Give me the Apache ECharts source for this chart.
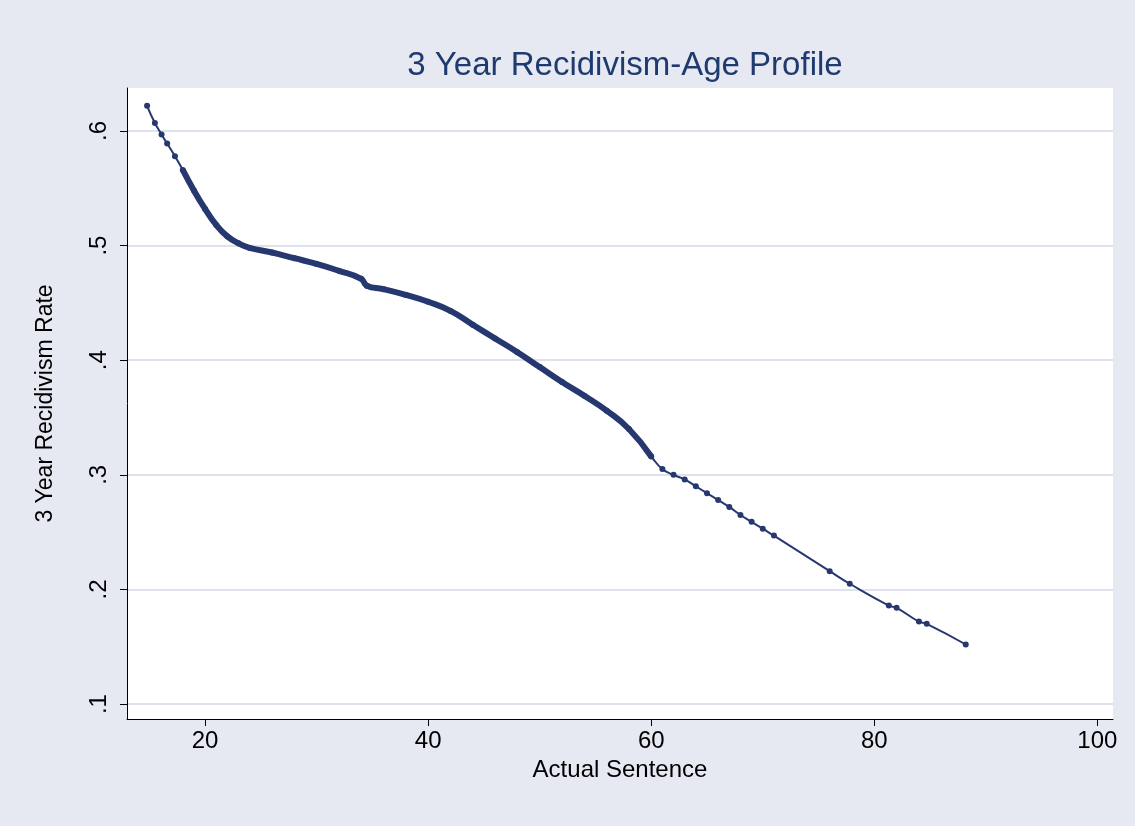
<!DOCTYPE html>
<html><head><meta charset="utf-8">
<script src="https://cdn.jsdelivr.net/npm/echarts@6/dist/echarts.min.js"></script>
<style>html,body{margin:0;padding:0;background:#e6e9f2}#main{width:1135px;height:826px}</style>
</head><body><div id="main"></div>
<script>
var sentence = [14.8,15.5,16.1,16.6,17.3,18,19,20,21,22,23,24,26,28,30,32,34,34.5,36,38,40,42,44,46,48,50,52,54,56,58,60,61,62,63,64,65,66,67,68,69,70,71,76,77.8,81.3,82,84,84.7,88.2];
var rate = [0.622,0.607,0.597,0.589,0.578,0.566,0.548,0.532,0.518,0.508,0.502,0.498,0.494,0.489,0.484,0.478,0.471,0.465,0.462,0.457,0.451,0.443,0.431,0.419,0.407,0.394,0.381,0.369,0.356,0.340,0.316,0.305,0.300,0.296,0.290,0.284,0.278,0.272,0.265,0.259,0.253,0.247,0.216,0.205,0.186,0.184,0.172,0.170,0.152];
var yTicks = {0.1:'.1',0.2:'.2',0.3:'.3',0.4:'.4',0.5:'.5',0.6:'.6'};

var pts = sentence.map(function (x, i) { return [x, rate[i]]; });
var dense = pts.filter(function (p) { return p[0] >= 17.8 && p[0] <= 60.5; });

var myChart = echarts.init(document.getElementById('main'));
myChart.setOption({
  backgroundColor: '#e6e9f2',
  animation: false,
  title: {
    text: '3 Year Recidivism-Age Profile', left: 620, top: 44, textAlign: 'center',
    textStyle: { color: '#1f3a6e', fontSize: 33, fontWeight: 'normal', fontFamily: 'Liberation Sans' }
  },
  grid: { left: 127, right: 22, top: 88, bottom: 107, backgroundColor: '#fff', show: true, borderWidth: 0 },
  xAxis: {
    type: 'value', min: 13, max: 101.4,
    name: 'Actual Sentence', nameLocation: 'middle', nameGap: 30,
    nameTextStyle: { color: '#000', fontSize: 24, fontFamily: 'Liberation Sans' },
    axisLine: { lineStyle: { color: '#000' } },
    axisTick: { length: 7, lineStyle: { color: '#000' }, customValues: [20,40,60,80,100] },
    axisLabel: { color: '#000', fontSize: 24, fontFamily: 'Liberation Sans', customValues: [20,40,60,80,100], margin: 10 },
    splitLine: { show: false }
  },
  yAxis: {
    type: 'value', min: 0.087, max: 0.6375,
    name: '3 Year Recidivism Rate', nameLocation: 'middle', nameGap: 70,
    nameTextStyle: { color: '#000', fontSize: 23, fontFamily: 'Liberation Sans' },
    axisLine: { show: true, lineStyle: { color: '#000' } },
    axisTick: { show: true, length: 7, lineStyle: { color: '#000' }, customValues: [0.1,0.2,0.3,0.4,0.5,0.6] },
    axisLabel: { color: '#000', fontSize: 24, fontFamily: 'Liberation Sans', rotate: 90, margin: 16,
      customValues: [0.1,0.2,0.3,0.4,0.5,0.6],
      formatter: function (v) { return yTicks[Math.round(v * 10) / 10]; } },
    splitLine: { show: true, lineStyle: { color: '#dde2ec', width: 2 } }
  },
  series: [
    { type: 'line', data: dense, showSymbol: false, smooth: true, lineStyle: { color: '#26386f', width: 6 } },
    { type: 'line', data: pts, smooth: true, symbol: 'circle', symbolSize: 6,
      itemStyle: { color: '#26386f' }, lineStyle: { color: '#26386f', width: 2 } }
  ]
});
</script></body></html>
